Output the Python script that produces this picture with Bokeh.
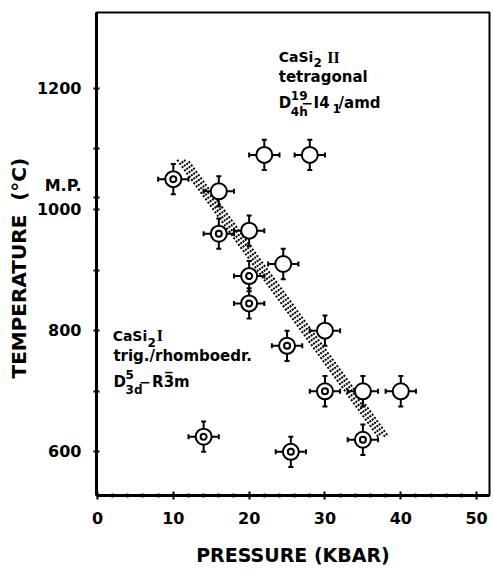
from bokeh.plotting import figure
from bokeh.models import (ColumnDataSource, Whisker, TeeHead, Label, FixedTicker,
                          Range1d, Title)
from bokeh.embed import file_html
from bokeh.resources import INLINE

# ---- data -------------------------------------------------------------
# CaSi2 II (tetragonal) : open circles
p2_pressure = [22, 28, 16, 20, 24.5, 30, 35, 40]
p2_temp = [1090, 1090, 1030, 965, 910, 800, 700, 700]
# CaSi2 I (trigonal/rhombohedral) : circles with a dot
p1_pressure = [10, 16, 20, 20, 25, 30, 14, 25.5, 35]
p1_temp = [1050, 960, 890, 845, 775, 700, 625, 600, 620]
# error bars
err_pressure = 2.0
err_temp = 25.0
# phase boundary band (end points)
band_pressure = [11.2, 37.7]
band_temp = [1082, 625]
band_offsets = [-0.68, -0.23, 0.23, 0.68]
# axes
x_ticks = [0, 10, 20, 30, 40, 50]
x_minor = [2, 4, 6, 8, 12, 14, 16, 18, 22, 24, 26, 28, 32, 34, 36, 38,
           42, 44, 46, 48]
y_ticks = [600, 700, 800, 900, 1000, 1020, 1100, 1200]
y_labels = {600: "600", 700: "", 800: "800", 900: "", 1000: "1000",
            1020: "M.P.\n", 1100: "", 1200: "1200"}

FONT = "DejaVu Sans"

p = figure(width=492, height=568, output_backend="svg", toolbar_location=None,
           x_range=Range1d(-0.13, 51.7), y_range=Range1d(528, 1325),
           min_border_left=96, min_border_right=3, min_border_top=12,
           min_border_bottom=71)
p.background_fill_color = "white"
p.border_fill_color = "white"
p.outline_line_color = "black"
p.outline_line_width = 2
p.grid.visible = False

# axes
for ax in (p.xaxis[0], p.yaxis[0]):
    ax.axis_line_width = 3
    ax.axis_line_color = "black"
    ax.major_tick_line_width = 2
    ax.minor_tick_line_width = 2
    ax.major_tick_line_color = "black"
    ax.minor_tick_line_color = "black"
    ax.major_label_text_font = FONT
    ax.major_label_text_font_style = "bold"
    ax.major_label_text_font_size = "16px"
    ax.major_label_text_color = "black"
    ax.axis_label_text_font = FONT
    ax.axis_label_text_font_style = "bold"
    ax.axis_label_text_font_size = "19px"
    ax.axis_label_text_color = "black"

p.xaxis.ticker = FixedTicker(ticks=x_ticks, minor_ticks=x_minor)
p.xaxis.major_tick_in = 4
p.xaxis.major_tick_out = 4
p.xaxis.minor_tick_in = 2
p.xaxis.minor_tick_out = 2
p.xaxis.major_label_standoff = 12
p.xaxis.axis_label = "PRESSURE (KBAR)"
p.xaxis.axis_label_standoff = 17

p.yaxis.ticker = FixedTicker(ticks=y_ticks, minor_ticks=[])
p.yaxis.major_label_overrides = y_labels
p.yaxis.major_tick_in = 3
p.yaxis.major_tick_out = 3
p.yaxis.major_label_standoff = 12

ytitle = Title(text="TEMPERATURE\u00a0\u00a0(\u00b0C)", align="left", offset=117,
               standoff=6, text_font=FONT, text_font_style="bold",
               text_font_size="20px", text_color="black")
p.add_layout(ytitle, "left")

# phase boundary band (stippled)
for i, off in enumerate(band_offsets):
    p.line([band_pressure[0] + off, band_pressure[1] + off], band_temp,
           line_color="black", line_width=2, line_dash="2 2",
           line_dash_offset=(i % 2) * 2)

# error bars
all_p = p1_pressure + p2_pressure
all_t = p1_temp + p2_temp
src = ColumnDataSource(dict(
    x=all_p, y=all_t,
    xl=[v - err_pressure for v in all_p], xu=[v + err_pressure for v in all_p],
    yl=[v - err_temp for v in all_t], yu=[v + err_temp for v in all_t]))
for dim, base, lo, up in (("width", "y", "xl", "xu"), ("height", "x", "yl", "yu")):
    w = Whisker(source=src, dimension=dim, base=base, lower=lo, upper=up,
                line_color="black", line_width=2,
                upper_head=TeeHead(size=5, line_width=2, line_color="black"),
                lower_head=TeeHead(size=5, line_width=2, line_color="black"))
    p.add_layout(w)

# markers
p.scatter(p2_pressure, p2_temp, marker="circle", size=16, fill_color="white",
          line_color="black", line_width=2)
p.scatter(p1_pressure, p1_temp, marker="circle", size=16, fill_color="white",
          line_color="black", line_width=2)
p.scatter(p1_pressure, p1_temp, marker="circle", size=6, fill_color="white",
          line_color="black", line_width=2)


def txt(x, y, s, size="15px", font=FONT, align="left"):
    p.add_layout(Label(x=x, y=y, text=s, text_font=font, text_font_style="bold",
                       text_font_size=size, text_color="black",
                       text_align=align, text_baseline="alphabetic"))


# CaSi2 II annotation
txt(23.9, 1251, "CaSi", size="14px")
txt(28.5, 1243, "2", size="12px")
txt(30.3, 1251, "II", font="Liberation Serif", size="16px")
txt(23.9, 1218, "tetragonal")
txt(23.9, 1175, "D")
txt(25.5, 1188, "19", size="12px")
txt(25.5, 1161, "4h", size="12px")
txt(26.9, 1175, "\u2212", size="14px")
txt(28.5, 1175, "I4")
txt(31.0, 1167, "1", size="12px")
txt(31.8, 1175, "/amd")

# CaSi2 I annotation
txt(2.0, 792, "CaSi", size="14px")
txt(6.6, 781, "2", size="12px")
txt(7.8, 792, "I", font="Liberation Serif", size="16px")
txt(2.1, 758, "trig./rhomboedr.")
txt(2.1, 715, "D")
txt(3.7, 728, "5", size="12px")
txt(3.7, 702, "3d", size="12px")
txt(5.5, 715, "\u2212", size="14px")
txt(7.2, 715, "R3\u0305m")

open("out.html", "w").write(file_html(p, INLINE))
